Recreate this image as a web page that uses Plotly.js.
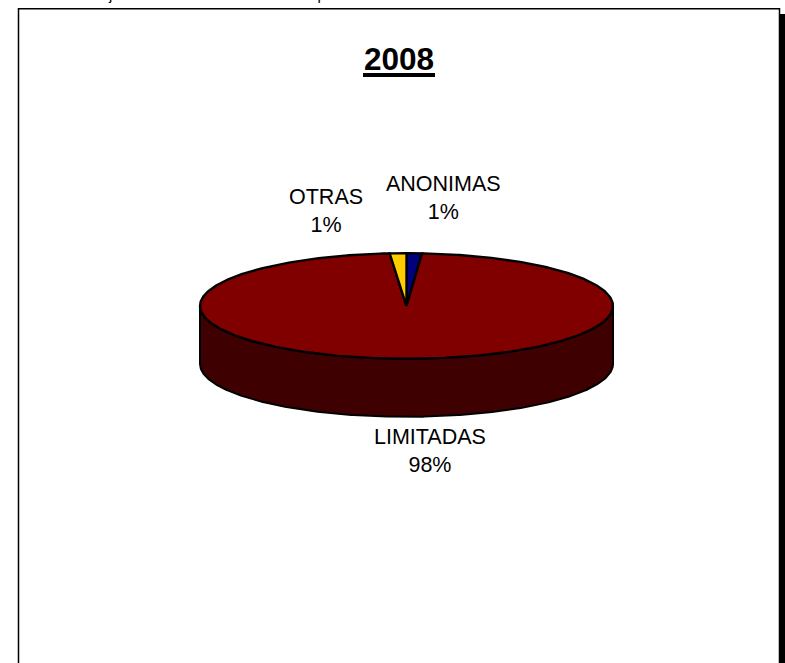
<!DOCTYPE html>
<html>
<head>
<meta charset="utf-8">
<script src="https://cdn.plot.ly/plotly-3.0.1.min.js"></script>
<style>html,body{margin:0;padding:0;background:#fff;overflow:hidden}#c{width:785px;height:663px}</style>
</head>
<body>
<div id="c"></div>
<script>
var chartTitle = '2008';
var headerText = 'Porcentajes de sociedades comerciales por forma societaria durante el año 2008';
var categories = ['ANONIMAS', 'LIMITADAS', 'OTRAS'];
var values = [1.2, 97.5, 1.3];
var percentLabels = ['1%', '98%', '1%'];
var sliceColors = ['#000080', '#800000', '#FFCC00'];
var wallColor = '#3E0000';
var labelX = [443.5, 430, 325.5];
var labelY = [198, 451, 211];

var W = 785, H = 663;
var cx = 406.5, cy = 306, rx = 206.5, ry = 52.8, depth = 58;
var total = values.reduce(function (a, b) { return a + b; }, 0);

function ellipsePoint(deg, dy) {
  var t = deg * Math.PI / 180;
  return [cx + rx * Math.sin(t), cy + dy - ry * Math.cos(t)];
}
function sliceTrace(startDeg, endDeg, color) {
  var xs = [cx], ys = [cy];
  for (var d = startDeg; d < endDeg; d += 0.5) {
    var p = ellipsePoint(d, 0); xs.push(p[0]); ys.push(p[1]);
  }
  var e = ellipsePoint(endDeg, 0); xs.push(e[0], cx); ys.push(e[1], cy);
  return {type: 'scatter', mode: 'lines', x: xs, y: ys, fill: 'toself', fillcolor: color,
          line: {color: '#000', width: 2.4}, hoverinfo: 'skip', showlegend: false};
}
function wallTrace() {
  var xs = [], ys = [], d, p;
  for (d = 90; d <= 270; d += 0.5) { p = ellipsePoint(d, 0); xs.push(p[0]); ys.push(p[1]); }
  for (d = 270; d >= 90; d -= 0.5) { p = ellipsePoint(d, depth); xs.push(p[0]); ys.push(p[1]); }
  xs.push(xs[0]); ys.push(ys[0]);
  return {type: 'scatter', mode: 'lines', x: xs, y: ys, fill: 'toself', fillcolor: wallColor,
          line: {color: '#000', width: 2}, hoverinfo: 'skip', showlegend: false};
}

var traces = [wallTrace()];
var angle = 0;
values.forEach(function (v, i) {
  var sweep = v / total * 360;
  traces.push(sliceTrace(angle, angle + sweep, sliceColors[i]));
  angle += sweep;
});

var annotations = categories.map(function (c, i) {
  return {x: labelX[i], y: labelY[i], xref: 'x', yref: 'y', xanchor: 'center', yanchor: 'middle',
          text: c + '<br>' + percentLabels[i], showarrow: false, align: 'center',
          font: {family: 'Liberation Sans, Arial, sans-serif', size: 21.5, color: '#000'}};
});
annotations.push({x: 47, y: 5, xref: 'x', yref: 'y', xanchor: 'left', yanchor: 'bottom',
  text: headerText, showarrow: false,
  font: {family: 'Liberation Sans, Arial, sans-serif', size: 15, color: '#000'}});

var layout = {
  width: W, height: H,
  margin: {l: 0, r: 0, t: 0, b: 0},
  paper_bgcolor: '#fff', plot_bgcolor: '#fff',
  showlegend: false,
  title: {text: '<b>' + chartTitle + '</b>', x: 399 / W, xanchor: 'center', xref: 'paper',
          y: 1 - 59 / H, yanchor: 'middle', yref: 'container',
          font: {family: 'Liberation Sans, Arial, sans-serif', size: 31.5, color: '#000'}},
  xaxis: {range: [0, W], visible: false, fixedrange: true},
  yaxis: {range: [H, 0], visible: false, fixedrange: true},
  annotations: annotations,
  shapes: [
    {type: 'rect', xref: 'x', yref: 'y', x0: 18.5, x1: 779.5, y0: 8.7, y1: 680,
     line: {color: '#000', width: 1.5}, fillcolor: 'rgba(0,0,0,0)', layer: 'below'},
    {type: 'rect', xref: 'x', yref: 'y', x0: 779.5, x1: 785, y0: 14, y1: 663,
     line: {width: 0}, fillcolor: '#000', layer: 'below'},
    {type: 'rect', xref: 'x', yref: 'y', x0: 363, x1: 435, y0: 73, y1: 77,
     line: {width: 0}, fillcolor: '#000', layer: 'above'}
  ]
};
Plotly.newPlot('c', traces, layout, {displayModeBar: false, staticPlot: true});
</script>
</body>
</html>
